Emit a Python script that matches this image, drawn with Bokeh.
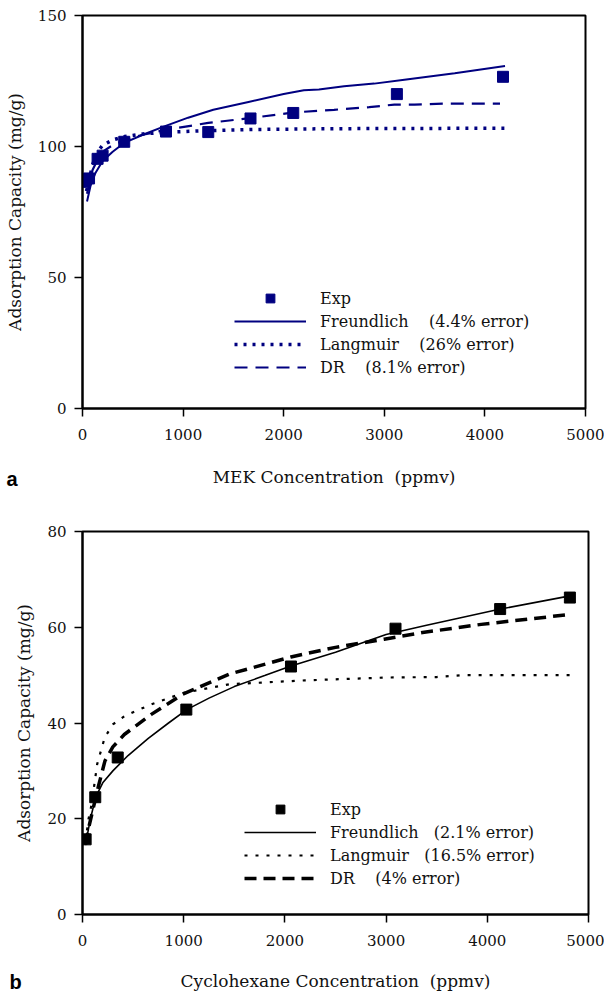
from bokeh.plotting import figure
from bokeh.layouts import column
from bokeh.models import Legend, LegendItem, FixedTicker, Range1d, Title
from bokeh.embed import file_html
from bokeh.resources import INLINE

# ---- Panel a: MEK ----
a_exp_x = [20, 65, 150, 200, 415, 830, 1250, 1670, 2095, 3125, 4180]
a_exp_y = [86.5, 87.8, 95.3, 96.5, 101.8, 105.7, 105.5, 110.7, 112.8, 120.0, 126.6]
a_fr_x = [45, 80, 130, 200, 300, 420, 600, 800, 1050, 1300, 1650, 2000, 2200, 2350, 2600, 2900, 3200, 3700, 4200]
a_fr_y = [79, 85, 90, 94.5, 98, 101.5, 104.5, 107.5, 111, 114, 117, 120, 121.5, 121.8, 123, 124, 125.5, 128, 130.7]
a_la_x = [40, 100, 150, 200, 300, 420, 600, 850, 1200, 1700, 2500, 3500, 4200]
a_la_y = [83, 93, 98, 100.5, 102.5, 103.8, 104.8, 105.5, 106.0, 106.5, 106.8, 106.9, 107.0]
a_dr_x = [45, 100, 150, 220, 300, 420, 600, 850, 1250, 1700, 2100, 2500, 2850, 3100, 3300, 3600, 4150]
a_dr_y = [82, 91, 95, 98.5, 100.5, 102.5, 104.5, 106.5, 109, 111, 113, 114, 115, 116, 116, 116.4, 116.4]
a_labels = ["Exp", "Freundlich\u00a0\u00a0\u00a0\u00a0(4.4% error)",
            "Langmuir\u00a0\u00a0\u00a0\u00a0(26% error)", "DR\u00a0\u00a0\u00a0\u00a0(8.1% error)"]
a_yticks = [0, 50, 100, 150]

# ---- Panel b: Cyclohexane ----
b_exp_x = [31, 126, 348, 1026, 2060, 3093, 4127, 4816]
b_exp_y = [15.7, 24.5, 32.8, 42.8, 51.8, 59.7, 63.8, 66.2]
b_fr_x = [30, 60, 90, 130, 200, 300, 450, 650, 850, 1030, 1250, 1500, 1800, 2060, 2500, 3000, 3400, 4130, 4830]
b_fr_y = [14.5, 18, 21, 24.5, 27.5, 30, 33.2, 36.8, 40, 42.8, 45.2, 47.6, 49.9, 51.9, 54.8, 58.5, 60.4, 63.8, 66.6]
b_la_x = [30, 60, 90, 145, 220, 300, 420, 680, 1000, 1450, 2200, 3000, 3500, 3750, 4830]
b_la_y = [15.3, 20, 23, 31.4, 37, 39.7, 41.5, 43.9, 46.3, 48.1, 48.9, 49.5, 49.6, 50, 50]
b_dr_x = [30, 60, 107, 160, 222, 300, 413, 680, 990, 1450, 2060, 2500, 2980, 3360, 3940, 4830]
b_dr_y = [14.6, 18, 22.3, 27, 32.1, 35, 37.6, 41.8, 46, 50.2, 53.8, 55.8, 57.5, 58.9, 60.6, 62.7]
b_labels = ["Exp", "Freundlich\u00a0\u00a0\u00a0(2.1% error)",
            "Langmuir\u00a0\u00a0\u00a0(16.5% error)", "DR\u00a0\u00a0\u00a0\u00a0(4% error)"]
b_yticks = [0, 20, 40, 60, 80]

xticks = [0, 1000, 2000, 3000, 4000, 5000]
SERIF = "DejaVu Serif"
SANS = "Liberation Sans"


def style(p, yticks, xlabel, xlab_standoff):
    p.xaxis.ticker = FixedTicker(ticks=xticks)
    p.yaxis.ticker = FixedTicker(ticks=yticks)
    for ax in (p.xaxis[0], p.yaxis[0]):
        ax.axis_line_color = "black"
        ax.axis_line_width = 2
        ax.major_tick_line_color = "black"
        ax.major_tick_line_width = 1.5
        ax.major_tick_out = 8
        ax.major_tick_in = 0
        ax.minor_tick_line_color = None
        ax.major_label_text_font = SERIF
        ax.major_label_text_font_size = "15px"
        ax.major_label_text_color = "#111111"
        ax.axis_label_text_font = SERIF
        ax.axis_label_text_font_size = "17px"
        ax.axis_label_text_font_style = "normal"
        ax.axis_label_text_color = "#111111"
    p.xaxis.major_label_standoff = 12
    p.yaxis.major_label_standoff = 8
    p.xaxis.axis_label = xlabel
    p.xaxis.axis_label_standoff = xlab_standoff
    p.yaxis.axis_label = "Adsorption Capacity (mg/g)"
    p.yaxis.axis_label_standoff = 10
    p.xgrid.grid_line_color = None
    p.ygrid.grid_line_color = None
    p.outline_line_color = "black"
    p.outline_line_width = 2
    p.outline_line_alpha = 1


def make_legend(p, items, loc):
    lg = Legend(items=items, location=loc, orientation="vertical",
                glyph_width=72, glyph_height=22, label_height=22,
                label_standoff=14, spacing=1, padding=0, margin=0,
                border_line_alpha=0, background_fill_alpha=0,
                label_text_font=SERIF, label_text_font_size="16px",
                label_text_color="#111111")
    p.add_layout(lg)


def panel_letter(p, letter, offset, standoff):
    t = Title(text=letter, align="left", vertical_align="top",
              offset=offset, standoff=standoff,
              text_font=SANS, text_font_style="bold", text_font_size="20px",
              text_color="black")
    p.add_layout(t, "below")


# Panel a
pa = figure(frame_width=503, frame_height=393, output_backend="svg", toolbar_location=None,
            x_range=Range1d(0, 5000), y_range=Range1d(0, 150),
            min_border_left=82, min_border_right=19, min_border_top=15, min_border_bottom=80)
style(pa, a_yticks, "MEK Concentration\u00a0\u00a0(ppmv)", 24)
NAVY = "#000080"
ra_fr = pa.line(a_fr_x, a_fr_y, line_color=NAVY, line_width=2)
ra_la = pa.line(a_la_x, a_la_y, line_color=NAVY, line_width=3.5, line_dash="3 6")
ra_dr = pa.line(a_dr_x, a_dr_y, line_color=NAVY, line_width=2.2, line_dash="13 8")
ra_ex = pa.scatter(a_exp_x, a_exp_y, marker="square", size=11, fill_color=NAVY, line_color=NAVY)
make_legend(pa, [LegendItem(label=a_labels[0], renderers=[ra_ex]),
                 LegendItem(label=a_labels[1], renderers=[ra_fr]),
                 LegendItem(label=a_labels[2], renderers=[ra_la]),
                 LegendItem(label=a_labels[3], renderers=[ra_dr])], (152, 30))
panel_letter(pa, "a", -76, -44)

# Panel b
pb = figure(frame_width=506, frame_height=383, output_backend="svg", toolbar_location=None,
            x_range=Range1d(0, 5000), y_range=Range1d(0, 80),
            min_border_left=79, min_border_right=19, min_border_top=42, min_border_bottom=74)
style(pb, b_yticks, "Cyclohexane Concentration\u00a0\u00a0(ppmv)", 22)
rb_fr = pb.line(b_fr_x, b_fr_y, line_color="black", line_width=1.6)
rb_la = pb.line(b_la_x, b_la_y, line_color="black", line_width=2.2, line_dash="3 8")
rb_dr = pb.line(b_dr_x, b_dr_y, line_color="black", line_width=3.5, line_dash="12 7")
rb_ex = pb.scatter(b_exp_x, b_exp_y, marker="square", size=11, fill_color="black", line_color="black")
make_legend(pb, [LegendItem(label=b_labels[0], renderers=[rb_ex]),
                 LegendItem(label=b_labels[1], renderers=[rb_fr]),
                 LegendItem(label=b_labels[2], renderers=[rb_la]),
                 LegendItem(label=b_labels[3], renderers=[rb_dr])], (162, 25))
panel_letter(pb, "b", -73, -46)

layout = column(pa, pb, spacing=0)
open("out.html", "w").write(file_html(layout, INLINE))
